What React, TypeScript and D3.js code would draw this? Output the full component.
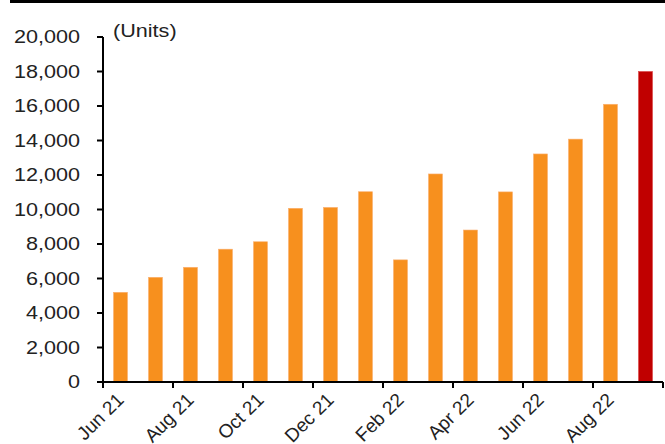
import React from "react";
import * as d3 from "d3";

const categories = ["Jun 21","Jul 21","Aug 21","Sep 21","Oct 21","Nov 21","Dec 21","Jan 22","Feb 22","Mar 22","Apr 22","May 22","Jun 22","Jul 22","Aug 22","Sep 22"];
const values = [5200, 6070, 6650, 7700, 8130, 10070, 10120, 11030, 7080, 12060, 8810, 11020, 13220, 14080, 16100, 18000];
const yTicks = [0, 2000, 4000, 6000, 8000, 10000, 12000, 14000, 16000, 18000, 20000];
const xTickLabels = ["Jun 21","Aug 21","Oct 21","Dec 21","Feb 22","Apr 22","Jun 22","Aug 22"];

export default function App() {
  const W = 665, H = 444;
  const left = 103, right = 663, top = 37, bottom = 382;
  const x = d3.scaleBand<string>().domain(categories).range([left, right]).paddingInner(0.6).paddingOuter(0.3);
  const xb = d3.scaleBand<string>().domain(categories).range([left, right]);
  const y = d3.scaleLinear().domain([0, 20000]).range([bottom, top]);
  const fmt = d3.format(",");
  const font = "Arial, 'Liberation Sans', sans-serif";
  const sx = 1.2;
  return (
    <svg width={W} height={H} style={{ position: "absolute", left: 0, top: 0, background: "#fff" }}>
      <rect x={10} y={0} width={W - 10} height={3} fill="#000" />
      {categories.map((c, i) => (
        <rect key={c} x={x(c)} y={y(values[i])} width={x.bandwidth()} height={bottom - y(values[i])}
          fill={i === categories.length - 1 ? "#C00000" : "#F7901E"} stroke={i === categories.length - 1 ? "#d44" : "#fbb070"} strokeWidth={0.6} />
      ))}
      <line x1={left} x2={left} y1={top} y2={bottom} stroke="#000" strokeWidth={2} />
      {yTicks.map(t => (
        <g key={t}>
          <line x1={left - 6} x2={left} y1={y(t)} y2={y(t)} stroke="#000" strokeWidth={2} />
          <text transform={`translate(${80},${y(t)}) scale(${sx},1)`} dy="0.36em" textAnchor="end" fontFamily={font} fontSize={18} fill="#222">{fmt(t)}</text>
        </g>
      ))}
      <line x1={left} x2={right} y1={bottom} y2={bottom} stroke="#000" strokeWidth={2} />
      {categories.map((c, i) => i % 2 === 0 ? (
        <line key={"t" + c} x1={xb(c)} x2={xb(c)} y1={bottom} y2={bottom + 6} stroke="#000" strokeWidth={2} />
      ) : null)}
      <line x1={right} x2={right} y1={bottom} y2={bottom + 6} stroke="#000" strokeWidth={2} />
      {xTickLabels.map(l => (
        <text key={"l" + l} transform={`translate(${(xb(l) as number) + 22},${bottom + 19}) rotate(-45)`} textAnchor="end"
          fontFamily={font} fontSize={19} fill="#222">{l}</text>
      ))}
      <text transform={`translate(113,37) scale(${sx},1)`} fontFamily={font} fontSize={18} fill="#222">(Units)</text>
    </svg>
  );
}
